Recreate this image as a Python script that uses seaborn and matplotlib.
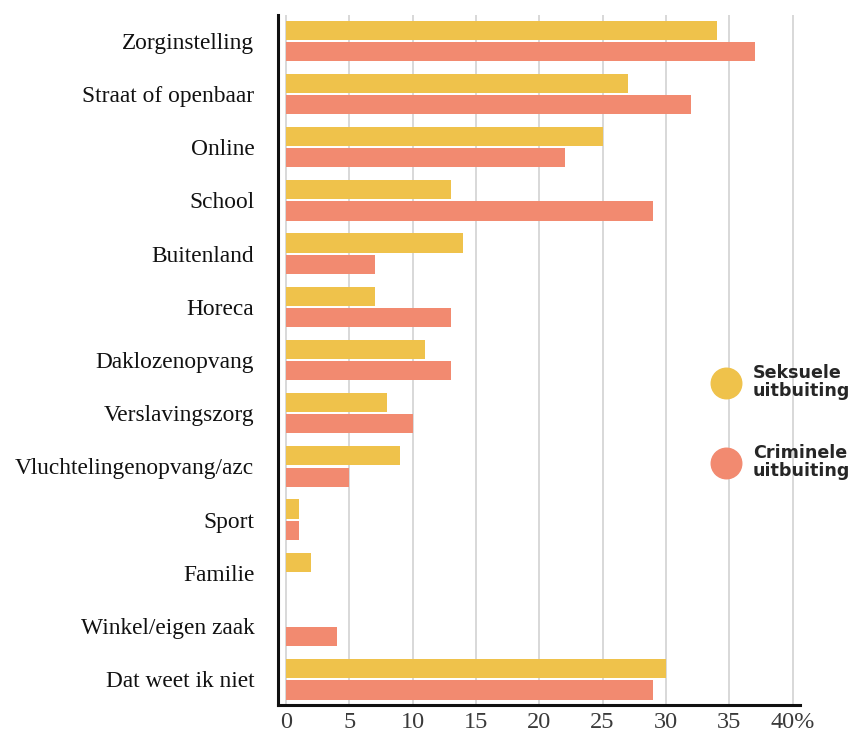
import matplotlib
matplotlib.use("Agg")
import matplotlib.pyplot as plt
import pandas as pd
import seaborn as sns
from matplotlib.lines import Line2D

# ──── data ────
categories = [
    "Zorginstelling", "Straat of openbaar", "Online", "School", "Buitenland",
    "Horeca", "Daklozenopvang", "Verslavingszorg", "Vluchtelingenopvang/azc",
    "Sport", "Familie", "Winkel/eigen zaak", "Dat weet ik niet",
]
seksueel = [34, 27, 25, 13, 14, 7, 11, 8, 9, 1, 2, 0, 30]
crimineel = [37, 32, 22, 29, 7, 13, 13, 10, 5, 1, 0, 4, 29]
series_names = ["Seksuele\nuitbuiting", "Criminele\nuitbuiting"]
x_ticks = [0, 5, 10, 15, 20, 25, 30, 35, 40]
x_ticklabels = ["0", "5", "10", "15", "20", "25", "30", "35", "40%"]

colors = ["#EFC24B", "#F28A70"]

df = pd.DataFrame({
    "categorie": categories * 2,
    "waarde": seksueel + crimineel,
    "soort": [series_names[0]] * len(categories) + [series_names[1]] * len(categories),
})

sns.set_theme(style="white")
plt.rcParams["font.family"] = ["Liberation Serif", "DejaVu Serif"]

fig = plt.figure(figsize=(8.55, 7.35), dpi=100)
ax = fig.add_axes([0.325, 0.041, 0.611, 0.939])

sns.barplot(
    data=df, y="categorie", x="waarde", hue="soort", orient="h",
    palette=colors, width=0.8, ax=ax, legend=False, saturation=1,
    linewidth=0,
)
# small gap between the two bars of a group, hide empty bars
for p in ax.patches:
    if p.get_width() == 0:
        p.set_visible(False)
    h = p.get_height()
    p.set_y(p.get_y() + 0.02)
    p.set_height(h - 0.04)

ax.set_xlim(-0.63, 40.6)
ax.set_ylim(12.48, -0.49)
ax.set_xticks(x_ticks)
ax.set_xticklabels(x_ticklabels, fontsize=17.5, color="#3a3a3a")
ax.tick_params(axis="y", labelsize=16.8, length=0, pad=17, labelcolor="#111111")
ax.tick_params(axis="x", length=0, pad=5)
ax.set_xlabel("")
ax.set_ylabel("")

ax.set_axisbelow(True)
ax.xaxis.grid(True, color="#d6d6d6", linewidth=1.3)
ax.yaxis.grid(False)
for s in ["top", "right"]:
    ax.spines[s].set_visible(False)
for s in ["left", "bottom"]:
    ax.spines[s].set_color("#111111")
    ax.spines[s].set_linewidth(2.2)

handles = [
    Line2D([0], [0], marker="o", linestyle="", markersize=22,
           markerfacecolor=c, markeredgecolor=c)
    for c in colors
]
leg = ax.legend(
    handles, series_names, loc="center left", bbox_to_anchor=(0.795, 0.41),
    frameon=False, labelspacing=2.5, handletextpad=0.5,
    prop={"family": "DejaVu Sans", "weight": "bold", "size": 12.6},
)
for t in leg.get_texts():
    t.set_linespacing(1.0)

fig.savefig("out.png", dpi=100)
plt.close(fig)
